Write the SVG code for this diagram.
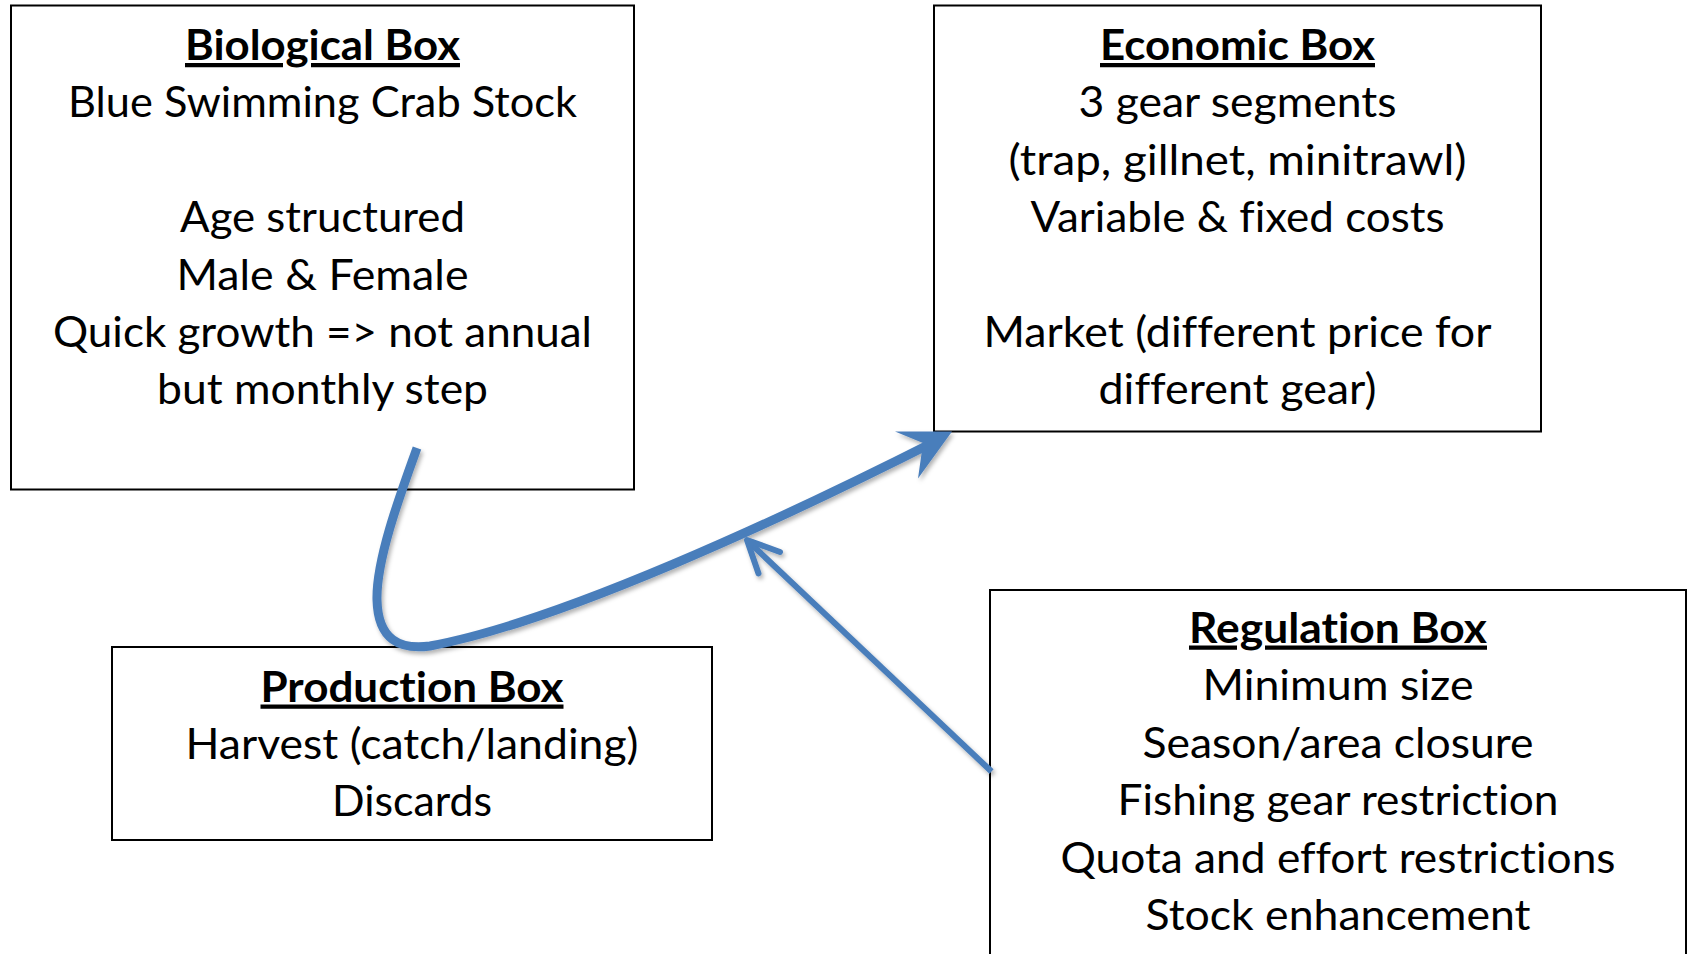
<svg xmlns="http://www.w3.org/2000/svg" width="1691" height="954" viewBox="0 0 1691 954">
  <defs>
    <filter id="softShadow" x="-10%" y="-10%" width="120%" height="130%">
      <feDropShadow dx="2" dy="3" stdDeviation="2" flood-color="#000" flood-opacity="0.3"/>
    </filter>
    <style>
      .box { fill: #fff; stroke: #000; stroke-width: 2; }
      .txt { font-family: Lato, "Liberation Sans", sans-serif; font-size: 42.5px; fill: #000; text-anchor: middle; font-variant-ligatures: none; font-feature-settings: "liga" 0; }
      .ttl { font-weight: bold; text-decoration: underline; }
      .flow { fill: none; stroke: #4A7EBB; }
      .head { fill: #4A7EBB; stroke: none; }
    </style>
  </defs>
  <rect width="1691" height="954" fill="#fff"/>

  <g id="biological-box">
    <rect class="box" x="11" y="5.5" width="623" height="484"/>
    <text class="txt ttl" x="322.5" y="60" textLength="275" lengthAdjust="spacingAndGlyphs">Biological Box</text>
    <text class="txt" x="322.5" y="117.4" textLength="509" lengthAdjust="spacingAndGlyphs">Blue Swimming Crab Stock</text>
    <text class="txt" x="322.5" y="232.2" textLength="285" lengthAdjust="spacingAndGlyphs">Age structured</text>
    <text class="txt" x="322.5" y="289.6" textLength="292" lengthAdjust="spacingAndGlyphs">Male &amp; Female</text>
    <text class="txt" x="322.5" y="347" textLength="539" lengthAdjust="spacingAndGlyphs">Quick growth =&gt; not annual</text>
    <text class="txt" x="322.5" y="404.4" textLength="331" lengthAdjust="spacingAndGlyphs">but monthly step</text>
  </g>

  <g id="economic-box">
    <rect class="box" x="934" y="5.5" width="607" height="426"/>
    <text class="txt ttl" x="1237.5" y="60" textLength="275" lengthAdjust="spacingAndGlyphs">Economic Box</text>
    <text class="txt" x="1237.5" y="117.4" textLength="318" lengthAdjust="spacingAndGlyphs">3 gear segments</text>
    <text class="txt" x="1237.5" y="174.8" textLength="458" lengthAdjust="spacingAndGlyphs">(trap, gillnet, minitrawl)</text>
    <text class="txt" x="1237.5" y="232.2" textLength="414" lengthAdjust="spacingAndGlyphs">Variable &amp; fixed costs</text>
    <text class="txt" x="1237.5" y="347" textLength="508" lengthAdjust="spacingAndGlyphs">Market (different price for</text>
    <text class="txt" x="1237.5" y="404.4" textLength="278" lengthAdjust="spacingAndGlyphs">different gear)</text>
  </g>

  <g id="production-box">
    <rect class="box" x="112" y="647" width="600" height="193"/>
    <text class="txt ttl" x="412" y="701.5" textLength="303" lengthAdjust="spacingAndGlyphs">Production Box</text>
    <text class="txt" x="412" y="758.9" textLength="453" lengthAdjust="spacingAndGlyphs">Harvest (catch/landing)</text>
    <text class="txt" x="412" y="816.3" textLength="160" lengthAdjust="spacingAndGlyphs">Discards</text>
  </g>

  <g id="regulation-box">
    <rect class="box" x="990" y="590" width="696" height="380"/>
    <text class="txt ttl" x="1338" y="642.5" textLength="298" lengthAdjust="spacingAndGlyphs">Regulation Box</text>
    <text class="txt" x="1338" y="700" textLength="271" lengthAdjust="spacingAndGlyphs">Minimum size</text>
    <text class="txt" x="1338" y="757.5" textLength="391" lengthAdjust="spacingAndGlyphs">Season/area closure</text>
    <text class="txt" x="1338" y="815" textLength="441" lengthAdjust="spacingAndGlyphs">Fishing gear restriction</text>
    <text class="txt" x="1338" y="872.5" textLength="555" lengthAdjust="spacingAndGlyphs">Quota and effort restrictions</text>
    <text class="txt" x="1338" y="930" textLength="385" lengthAdjust="spacingAndGlyphs">Stock enhancement</text>
  </g>

  <g id="connectors" filter="url(#softShadow)">
    <!-- biological -> production -> economic: thick curve with stealth head -->
    <path class="flow" stroke-width="9" d="M 417,448 C 400,495 376,560 377,600 C 378,640 400,650 430,646 C 560,622 780,520 938,440"/>
    <polygon class="head" points="952,431.5 895,431.5 923,443 918,478.5"/>
    <!-- regulation -> flow: straight line with open head -->
    <path class="flow" stroke-width="6" d="M 991.5,771.5 L 749,542"/>
    <path class="flow" stroke-width="6" stroke-linecap="round" stroke-linejoin="round" d="M 780,552 L 747,540 L 758.5,573.5"/>
  </g>
</svg>
